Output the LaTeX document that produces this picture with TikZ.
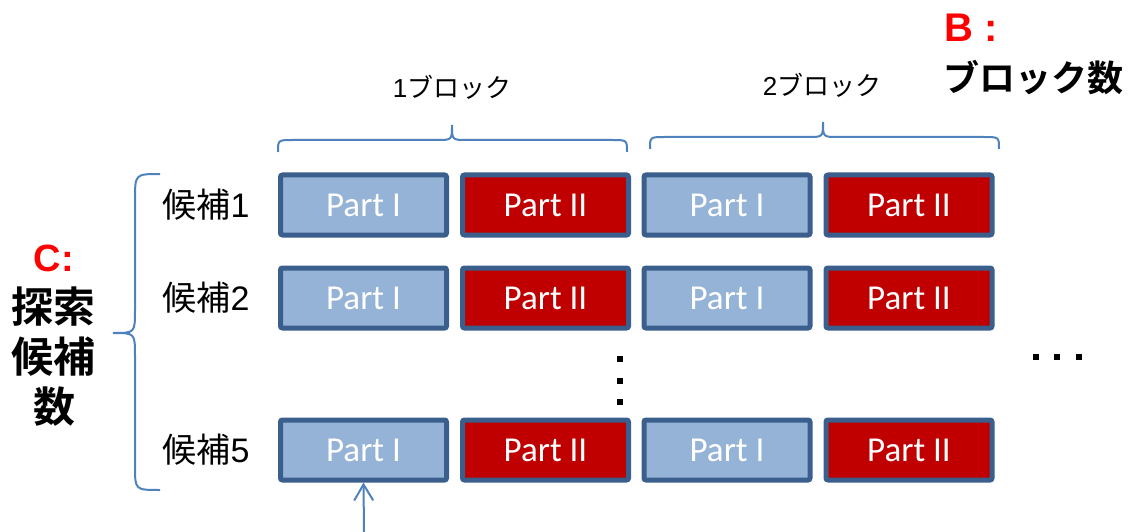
\documentclass[tikz,border=0pt]{standalone}
\usepackage{fontspec}
\setmainfont{Liberation Sans}
\newfontfamily\cjk{Noto Sans CJK JP}
\newfontfamily\cjkb{Noto Sans CJK JP Bold}
\newfontfamily\calib{Carlito}
\usetikzlibrary{arrows.meta}
\definecolor{bordblue}{HTML}{3A5F8D}
\definecolor{lightblue}{HTML}{95B3D7}
\definecolor{darkred}{HTML}{C00000}
\definecolor{bracecol}{HTML}{4F81BD}
\definecolor{labred}{HTML}{FF0000}
\begin{document}
\begin{tikzpicture}[x=1pt,y=-1pt,
  partbox/.style={draw=bordblue,line width=5pt,rounded corners=2pt,minimum width=166pt,minimum height=60pt,inner sep=0pt,text=white,font=\calib\fontsize{35}{40}\selectfont},
  parta/.style={partbox,fill=lightblue},
  partb/.style={partbox,fill=darkred},
  cand/.style={font=\fontsize{34}{40}\selectfont,inner sep=0pt},
  blk/.style={font=\fontsize{26}{30}\selectfont,inner sep=0pt},
  bracepath/.style={draw=bracecol,line width=2pt},
  sqdot/.style={fill=black,minimum size=6pt,inner sep=0pt,draw=none}
]
\useasboundingbox (0,0) rectangle (1128,532);
% boxes
\foreach \r/\y/\n in {1/205/1,2/298/2,5/450/5}{
  \node[parta] (r\r c1) at (363.5,\y) {Part I};
  \node[partb] (r\r c2) at (545.5,\y) {Part II};
  \node[parta] (r\r c3) at (727,\y) {Part I};
  \node[partb] (r\r c4) at (909,\y) {Part II};
  \node[cand] (cand\r) at (206,\y) {{\cjk 候補}\n};
}
% top braces
\draw[bracepath] (278,152) .. controls (278,140) .. (293,140) -- (437,140) .. controls (452,140) .. (452,125) .. controls (452,140) .. (467,140) -- (612,140) .. controls (627,140) .. (627,152);
\draw[bracepath] (650,149) .. controls (650,137) .. (665,137) -- (808,137) .. controls (823,137) .. (823,122) .. controls (823,137) .. (838,137) -- (984,137) .. controls (999,137) .. (999,149);
\node[blk] (blk1) at (452,87) {1{\cjk ブロック}};
\node[blk] (blk2) at (822,85) {2{\cjk ブロック}};
% left brace
\draw[bracepath] (160,174) .. controls (135,174) .. (135,200) -- (135,310) .. controls (135,333) .. (113,333) .. controls (135,333) .. (135,356) -- (135,466) .. controls (135,490) .. (160,490);
% B label
\node[anchor=west,inner sep=0pt,text=labred,font=\bfseries\fontsize{40}{44}\selectfont] (blab) at (944,28) {B :};
\node[anchor=west,inner sep=0pt,font=\cjkb\fontsize{36}{40}\selectfont] (bnum) at (943,78) {ブロック数};
% C label
\node[inner sep=0pt,text=labred,font=\bfseries\fontsize{38}{44}\selectfont] (clab) at (54,258) {C:};
\node[inner sep=0pt,font=\cjkb\fontsize{42}{50}\selectfont,align=center] (cnum) at (54,357) {探索\\候補\\数};
% dots
\node[sqdot] (vd1) at (620,359) {};
\node[sqdot] (vd2) at (620,381) {};
\node[sqdot] (vd3) at (620,402) {};
\node[sqdot] (hd1) at (1036,357) {};
\node[sqdot] (hd2) at (1057,357) {};
\node[sqdot] (hd3) at (1079,357) {};
% arrow
\coordinate (astart) at (364,532);
\draw[draw=bracecol,line width=2pt,-{Straight Barb[length=16pt,width=19pt,line width=2pt]}] (astart) -- (r5c1.south);
\end{tikzpicture}
\end{document}
